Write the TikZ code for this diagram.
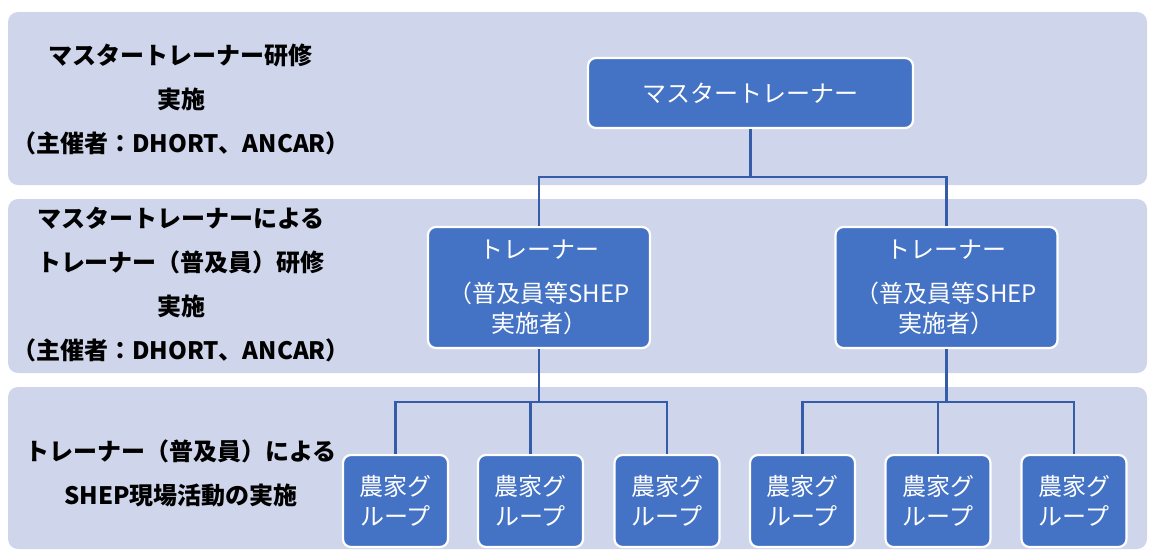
\documentclass[tikz,border=0pt]{standalone}
\usepackage{fontspec}
\setmainfont{Noto Sans CJK JP}
\definecolor{bandc}{RGB}{207,213,234}
\definecolor{boxc}{RGB}{68,114,196}
\definecolor{connc}{RGB}{52,92,168}
\tikzset{
  band/.style={fill=bandc, rounded corners=10pt},
  bluebox/.style={draw=white, line width=2.2pt, fill=boxc, rounded corners=8pt,
    text=white, align=center, inner sep=0pt, font=\fontsize{24}{30}\selectfont},
  lefttext/.style={align=center, text=black, inner sep=0pt,
    font=\fontsize{24}{44}\selectfont\bfseries},
  conn/.style={draw=connc, line width=2.2pt}
}
\begin{document}
\begin{tikzpicture}[x=1pt,y=-1pt]
\useasboundingbox (0,0) rectangle (1149,550);
% bands
\path[band] (8,12) rectangle (1147,185);
\path[band] (8,199) rectangle (1147,373);
\path[band] (8,387) rectangle (1147,549);
% left labels
\node[lefttext] (l1) at (181,99) {マスタートレーナー研修\\実施\\（主催者：DHORT、ANCAR）};
\node[lefttext] (l2) at (181,285) {マスタートレーナーによる\\トレーナー（普及員）研修\\実施\\（主催者：DHORT、ANCAR）};
\node[lefttext] (l3) at (181,473) {トレーナー（普及員）による\\SHEP現場活動の実施};
% boxes
\node[bluebox, minimum width=325pt, minimum height=70pt] (mt) at (750.5,93) {マスタートレーナー};
\node[bluebox, minimum width=222pt, minimum height=121pt] (t1) at (539,287.5) {トレーナー\\[14pt]（普及員等SHEP\\実施者）};
\node[bluebox, minimum width=222pt, minimum height=121pt] (t2) at (946.5,287.5) {トレーナー\\[14pt]（普及員等SHEP\\実施者）};
\foreach \n/\x in {f1/395.5, f2/530.5, f3/667, f4/802.5, f5/938, f6/1074}{
  \node[bluebox, minimum width=105pt, minimum height=92pt] (\n) at (\x,501) {農家グ\\ループ};
}
% connectors
\draw[conn] (mt.south) -- (mt.south |- 0,177);
\draw[conn] (t1.north) -- (t1.north |- 0,177) -- (t2.north |- 0,177) -- (t2.north);
\draw[conn] (t1.south) -- (t1.south |- 0,402);
\draw[conn] (f1.north) -- (f1.north |- 0,402) -- (f3.north |- 0,402) -- (f3.north);
\draw[conn] (f2.north) -- (f2.north |- 0,402);
\draw[conn] (t2.south) -- (t2.south |- 0,402);
\draw[conn] (f4.north) -- (f4.north |- 0,402) -- (f6.north |- 0,402) -- (f6.north);
\draw[conn] (f5.north) -- (f5.north |- 0,402);
\end{tikzpicture}
\end{document}
